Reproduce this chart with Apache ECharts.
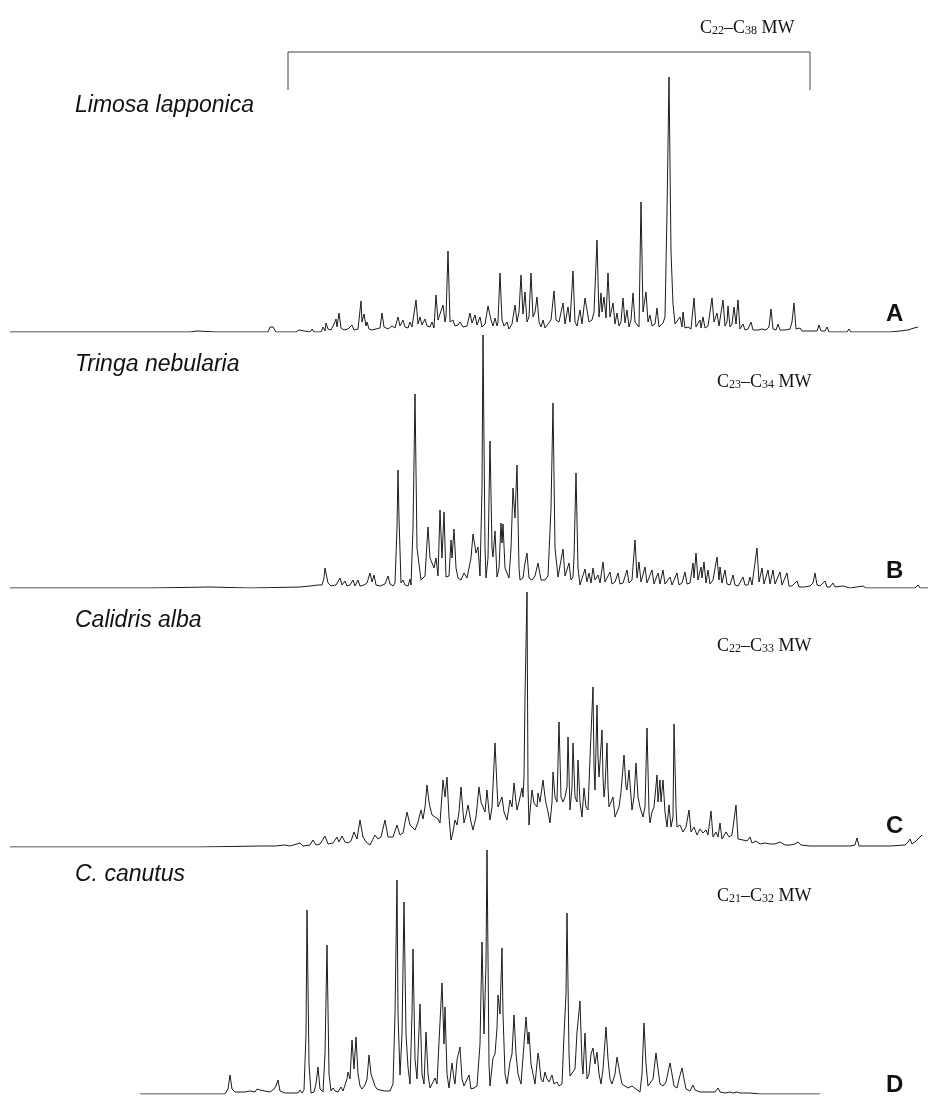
<!DOCTYPE html>
<html>
<head>
<meta charset="utf-8">
<script src="https://cdn.jsdelivr.net/npm/echarts@6/dist/echarts.min.js"></script>
<style>
  html, body { margin: 0; padding: 0; background: #fff; }
  #chart { width: 941px; height: 1098px; }
</style>
</head>
<body>
<div id="chart"></div>
<script>
// Gas chromatograms of preen-wax esters for four wader species.
// Each trace is a list of [retention position, detector response] vertices.

const species = ['Limosa lapponica', 'Tringa nebularia', 'Calidris alba', 'C. canutus'];
const panelLetters = ['A', 'B', 'C', 'D'];
const chainRanges = [[22, 38], [23, 34], [22, 33], [21, 32]];

const traceA = [
  [10,0],[190,0],[197,1],[199,0],[217,0],[219,2],[221,0],[238,0],[240,2],[242,0],[268,0],[270,5],[272,3],[273,5],[276,0],
  [296,0],[299,2],[301,0],[310,0],[312,3],[314,0],[321,0],[323,5],[325,1],[326,9],[328,3],[331,2],[334,8],[336,13],[337,5],
  [339,19],[341,4],[344,2],[348,3],[352,7],[354,2],[358,3],[361,31],[362,10],[364,18],[366,6],[367,10],[369,3],[372,2],[376,3],
  [380,4],[382,19],[384,5],[388,3],[392,6],[395,4],[398,15],[400,6],[403,12],[405,5],[408,4],[410,10],[412,5],[414,6],[416,32],
  [418,8],[420,15],[422,7],[425,13],[427,6],[430,5],[432,10],[434,4],[436,37],[438,12],[440,10],[443,27],[445,10],[446,15],
  [448,81],[450,10],[453,12],[455,6],[458,7],[460,10],[463,5],[467,6],[470,19],[472,9],[475,17],[477,7],[480,15],[482,5],[485,8],
  [488,26],[491,12],[493,6],[495,14],[497,6],[498,10],[500,59],[502,12],[504,6],[507,10],[509,3],[512,8],[515,27],[517,10],
  [519,20],[521,57],[523,18],[525,40],[527,10],[529,15],[531,59],[533,15],[535,20],[537,35],[539,10],[541,5],[543,12],[545,4],
  [548,8],[551,12],[554,41],[556,12],[559,10],[563,29],[565,8],[568,25],[570,10],[573,61],[575,10],[577,6],[580,22],[582,8],
  [585,34],[587,35],[589,10],[592,12],[594,20],[597,92],[599,15],[601,39],[602,20],[604,35],[606,14],[608,59],[610,15],[613,29],
  [615,8],[617,19],[619,6],[621,10],[623,34],[625,9],[627,22],[629,5],[631,12],[633,39],[635,10],[637,12],[639,5],[641,130],
  [643,20],[646,40],[648,10],[650,17],[652,6],[655,8],[657,24],[659,5],[661,4],[663,9],[665,15],[667,120],[669,255],[671,80],
  [673,28],[675,8],[677,6],[680,15],[682,5],[683,20],[685,4],[688,5],[691,3],[694,34],[696,5],[698,3],[700,12],[701,4],[703,15],
  [705,4],[708,6],[710,8],[712,34],[714,10],[717,19],[719,6],[721,8],[723,32],[725,6],[727,10],[728,26],[730,5],[732,8],[734,25],
  [736,8],[738,32],[740,3],[743,8],[745,2],[748,3],[751,10],[753,2],[758,2],[762,3],[766,2],[769,5],[771,23],[773,3],[776,2],
  [778,8],[780,2],[785,2],[790,3],[792,10],[794,29],[796,3],[798,1],[800,4],[802,1],[810,1],[817,1],[819,7],[821,1],[825,1],
  [827,5],[829,0],[847,0],[849,3],[851,0],[890,0],[900,1],[908,2],[914,4],[918,5]
];

const traceB = [
  [10,0],[150,0],[210,1],[250,0],[300,1],[310,2],[318,3],[322,3],[324,10],[325,20],[326,21],[328,5],[331,2],[336,3],[340,10],
  [342,3],[345,7],[347,2],[350,3],[353,8],[355,2],[358,8],[360,2],[364,3],[367,5],[370,15],[372,6],[374,13],[376,3],[380,2],
  [385,4],[388,12],[390,4],[393,2],[395,5],[397,60],[398,118],[399,70],[401,5],[403,8],[405,3],[408,2],[410,9],[411,3],[413,60],
  [415,194],[417,40],[419,38],[421,8],[423,6],[425,12],[428,61],[430,30],[432,31],[434,20],[436,30],[438,12],[440,78],[442,30],
  [444,76],[446,11],[449,12],[451,48],[452,30],[454,59],[456,20],[458,10],[461,8],[464,15],[467,10],[469,8],[471,30],[473,54],
  [476,35],[478,41],[480,12],[482,100],[483,253],[485,40],[486,10],[488,30],[490,147],[492,40],[493,31],[495,57],[497,11],[499,20],
  [501,65],[502,45],[503,64],[505,20],[507,15],[509,10],[511,40],[513,100],[515,70],[517,123],[519,20],[520,8],[523,10],[525,25],
  [527,35],[529,10],[532,8],[535,12],[538,25],[541,8],[545,8],[548,12],[551,80],[553,185],[555,40],[558,11],[560,10],[563,39],
  [565,12],[567,10],[569,25],[571,8],[573,11],[574,30],[576,115],[578,20],[580,3],[582,5],[585,19],[587,6],[589,15],[591,5],
  [593,20],[595,8],[598,13],[600,5],[603,26],[605,6],[607,8],[610,16],[612,4],[615,6],[618,15],[620,4],[623,5],[627,18],[629,5],
  [632,8],[635,48],[637,10],[639,26],[641,6],[645,21],[647,5],[649,6],[652,18],[654,4],[656,5],[658,15],[660,4],[663,18],[665,4],
  [667,3],[670,11],[672,3],[674,4],[677,15],[679,3],[682,5],[685,16],[687,4],[690,5],[693,25],[694,10],[696,35],[698,8],[701,21],
  [702,10],[704,26],[706,5],[708,18],[710,4],[713,8],[717,31],[719,8],[720,21],[722,5],[725,18],[727,4],[730,3],[733,13],[735,3],
  [738,2],[743,11],[745,3],[748,3],[750,11],[752,3],[754,5],[757,40],[759,6],[762,20],[764,4],[766,5],[768,18],[770,4],[773,18],
  [775,4],[777,4],[780,16],[782,3],[784,3],[787,15],[789,2],[792,2],[797,7],[799,1],[805,1],[810,2],[813,5],[815,15],[817,3],
  [820,2],[825,7],[827,1],[830,1],[833,5],[835,1],[843,2],[850,0],[863,2],[866,0],[886,0],[888,2],[890,0],[915,0],[918,3],[920,0],[928,0]
];

const traceC = [
  [10,0],[200,0],[260,1],[275,1],[285,2],[290,1],[300,4],[303,1],[310,2],[313,7],[316,2],[320,3],[325,11],[328,3],[333,4],
  [337,10],[339,5],[342,11],[345,5],[348,4],[351,6],[354,15],[357,8],[360,27],[363,10],[366,5],[370,2],[373,8],[375,12],[378,8],
  [381,10],[385,27],[388,10],[390,12],[393,10],[397,22],[400,12],[403,14],[407,35],[410,22],[412,22],[415,17],[418,25],[421,37],
  [423,28],[425,40],[427,62],[429,45],[430,40],[432,32],[435,30],[438,28],[440,24],[443,67],[445,50],[447,70],[449,30],[451,7],
  [453,15],[455,27],[457,22],[459,35],[461,60],[463,35],[464,24],[466,32],[468,42],[471,25],[473,17],[476,30],[479,60],[481,45],
  [483,44],[485,35],[487,57],[489,35],[490,27],[492,40],[495,104],[497,60],[498,40],[500,45],[502,50],[504,35],[507,27],[509,40],
  [510,47],[512,40],[514,64],[516,45],[517,37],[519,45],[522,59],[523,50],[524,70],[525,150],[527,255],[528,60],[529,22],[530,35],
  [532,57],[534,44],[535,44],[537,40],[538,54],[540,45],[543,67],[545,50],[546,44],[548,35],[550,24],[552,45],[553,75],[555,50],
  [557,45],[559,125],[561,50],[563,45],[565,50],[567,60],[568,110],[570,37],[572,60],[573,104],[575,50],[577,45],[578,87],[580,45],
  [582,30],[584,59],[586,40],[588,37],[590,89],[593,160],[594,80],[595,57],[597,142],[598,90],[599,70],[600,85],[602,117],[603,70],
  [604,50],[605,60],[607,104],[608,60],[609,40],[611,45],[613,50],[615,30],[617,30],[619,40],[621,55],[624,92],[626,60],[627,57],
  [629,77],[631,50],[632,37],[634,50],[636,84],[638,50],[640,40],[643,30],[645,40],[647,119],[649,35],[650,24],[652,35],[654,40],
  [657,72],[658,45],[660,67],[661,45],[663,67],[665,35],[667,20],[669,42],[671,20],[673,30],[674,123],[676,40],[677,20],[680,22],
  [683,15],[686,20],[689,37],[691,15],[694,20],[697,12],[700,18],[703,14],[706,17],[708,12],[711,36],[713,10],[716,15],[718,10],
  [720,24],[722,8],[726,15],[729,10],[732,12],[734,10],[736,42],[738,8],[739,10],[743,7],[747,6],[750,10],[752,4],[756,6],[760,3],
  [765,4],[770,3],[775,3],[780,5],[785,2],[790,2],[795,3],[798,5],[801,2],[810,1],[820,1],[830,1],[840,1],[850,1],[855,2],[857,9],
  [859,1],[870,1],[890,1],[905,2],[908,5],[910,8],[912,3],[916,6],[920,10],[922,12]
];

const traceD = [
  [140,0],[225,0],[228,5],[230,19],[232,5],[235,2],[245,2],[250,3],[255,2],[257,5],[259,4],[260,4],[262,2],[265,3],[270,2],
  [274,5],[276,8],[278,14],[280,3],[285,1],[290,1],[298,1],[300,4],[302,1],[304,4],[306,60],[307,184],[309,30],[311,1],[314,2],
  [316,10],[318,27],[320,5],[323,2],[325,40],[327,149],[329,20],[331,3],[333,6],[335,3],[338,2],[341,7],[343,3],[345,5],[347,15],
  [348,22],[350,15],[352,54],[354,25],[356,57],[358,20],[360,8],[362,5],[365,9],[367,15],[369,39],[371,20],[373,22],[375,8],[377,5],
  [380,4],[385,3],[390,3],[393,10],[395,80],[397,214],[398,80],[400,19],[402,60],[404,192],[406,60],[408,27],[410,10],[412,80],
  [413,145],[415,35],[417,15],[420,90],[422,20],[424,10],[426,62],[428,20],[430,6],[432,5],[435,16],[437,10],[439,52],[442,111],
  [444,50],[445,87],[447,20],[449,6],[452,31],[454,15],[455,10],[457,34],[460,47],[462,15],[464,8],[466,6],[469,19],[471,5],[474,6],
  [477,8],[479,10],[480,50],[482,152],[484,60],[486,131],[487,244],[489,30],[490,8],[493,36],[495,40],[497,66],[498,99],[500,80],
  [502,146],[503,80],[505,20],[507,10],[510,32],[512,40],[514,79],[516,40],[518,20],[521,10],[523,8],[526,77],[528,50],[529,62],
  [531,30],[533,29],[535,10],[538,41],[539,35],[541,15],[543,12],[545,22],[547,15],[549,12],[552,19],[554,10],[557,12],[559,8],
  [562,10],[564,59],[566,100],[567,181],[569,40],[570,18],[572,20],[575,25],[577,62],[580,93],[582,30],[583,20],[585,61],[587,15],
  [589,20],[591,40],[593,46],[595,30],[597,42],[599,20],[601,10],[603,25],[606,67],[608,35],[610,15],[612,10],[615,20],[617,37],
  [620,20],[622,10],[625,8],[628,6],[632,8],[636,5],[640,2],[642,20],[644,71],[646,30],[648,8],[650,6],[653,15],[656,41],[658,25],
  [660,10],[663,8],[666,12],[670,31],[672,20],[674,8],[677,6],[679,15],[682,26],[684,15],[686,5],[690,3],[693,9],[695,4],[700,2],
  [705,2],[710,2],[715,2],[718,6],[720,2],[725,1],[730,2],[733,1],[737,2],[740,1],[750,1],[760,0],[820,0]
];

const traces = [traceA, traceB, traceC, traceD];

// Layout of the four stacked panels (pixel baselines and text anchors)
const panelBase = [332, 588, 847, 1094];
const panelHeight = 260;
const yMax = 260;
const titleTop = [94, 353, 609, 863];
const rangeLeft = [700, 717, 717, 717];
const rangeTop = [19, 373, 637, 887];
const letterTop = [302, 559, 814, 1073];

const chart = echarts.init(document.getElementById('chart'), null, { renderer: 'canvas' });

const grids = [], xAxes = [], yAxes = [], series = [], graphics = [];

traces.forEach((trace, i) => {
  grids.push({ left: 0, width: 941, top: panelBase[i] - panelHeight, height: panelHeight });
  xAxes.push({ gridIndex: i, type: 'value', min: 0, max: 941, show: false });
  yAxes.push({ gridIndex: i, type: 'value', min: 0, max: yMax, show: false });
  series.push({
    type: 'line', xAxisIndex: i, yAxisIndex: i, data: trace,
    showSymbol: false, symbol: 'none', smooth: false,
    lineStyle: { color: '#1c1c1c', width: 1 },
    silent: true
  });

  graphics.push({
    type: 'text', left: 75, top: titleTop[i],
    style: { text: species[i], font: 'italic 23px "Liberation Sans", Arial, sans-serif', fill: '#111' }
  });
  graphics.push({
    type: 'text', left: 886, top: letterTop[i],
    style: { text: panelLetters[i], font: 'bold 24px "Liberation Sans", Arial, sans-serif', fill: '#111' }
  });
  const r = chainRanges[i];
  graphics.push({
    type: 'text', left: rangeLeft[i], top: rangeTop[i],
    style: {
      text: '{c|C}{s|' + r[0] + '}{c|\u2013C}{s|' + r[1] + '}{c| MW}',
      rich: {
        c: { font: '18px "Liberation Serif", "Times New Roman", serif', fill: '#111', verticalAlign: 'bottom' },
        s: { font: '12px "Liberation Serif", "Times New Roman", serif', fill: '#111', padding: [7, 0, 0, 0], verticalAlign: 'bottom' }
      }
    }
  });
});

// Bracket marking the wax-ester elution window over panel A
graphics.push({
  type: 'polyline',
  shape: { points: [[288, 90], [288, 52], [810, 52], [810, 90]] },
  style: { stroke: '#444', lineWidth: 1, fill: null }
});

chart.setOption({
  animation: false,
  backgroundColor: '#ffffff',
  grid: grids,
  xAxis: xAxes,
  yAxis: yAxes,
  series: series,
  graphic: graphics
});
</script>
</body>
</html>
